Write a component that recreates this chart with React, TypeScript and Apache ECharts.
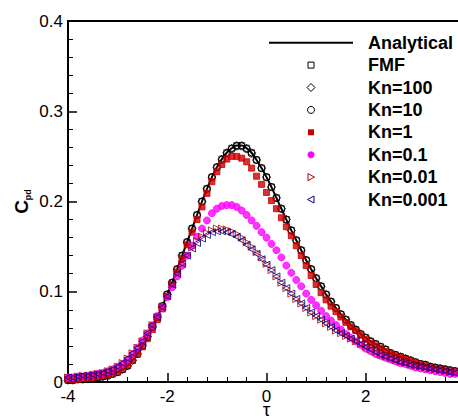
import React, { useEffect, useRef } from "react";
import * as echarts from "echarts";

const tau = [
  -4.0, -3.9, -3.8, -3.7, -3.6, -3.5, -3.4, -3.3, -3.2, -3.1,
  -3.0, -2.9, -2.8, -2.7, -2.6, -2.5, -2.4, -2.3, -2.2, -2.1,
  -2.0, -1.9, -1.8, -1.7, -1.6, -1.5, -1.4, -1.3, -1.2, -1.1,
  -1.0, -0.9, -0.8, -0.7, -0.6, -0.5, -0.4, -0.3, -0.2, -0.1,
  0.0, 0.1, 0.2, 0.3, 0.4, 0.5, 0.6, 0.7, 0.8, 0.9,
  1.0, 1.1, 1.2, 1.3, 1.4, 1.5, 1.6, 1.7, 1.8, 1.9,
  2.0, 2.1, 2.2, 2.3, 2.4, 2.5, 2.6, 2.7, 2.8, 2.9,
  3.0, 3.1, 3.2, 3.3, 3.4, 3.5, 3.6, 3.7, 3.8,
];

const analytical = [
  0.002, 0.002, 0.003, 0.003, 0.004, 0.004, 0.005, 0.006, 0.007, 0.009,
  0.011, 0.014, 0.018, 0.024, 0.031, 0.040, 0.050, 0.061, 0.072, 0.084,
  0.097, 0.110, 0.125, 0.140, 0.155, 0.170, 0.185, 0.200, 0.214, 0.227,
  0.238, 0.247, 0.254, 0.259, 0.262, 0.262, 0.259, 0.254, 0.246, 0.237,
  0.227, 0.216, 0.204, 0.192, 0.180, 0.168, 0.157, 0.146, 0.135, 0.125,
  0.115, 0.106, 0.097, 0.089, 0.082, 0.075, 0.069, 0.063, 0.058, 0.053,
  0.049, 0.045, 0.042, 0.039, 0.036, 0.032, 0.030, 0.028, 0.026, 0.024,
  0.022, 0.020, 0.019, 0.017, 0.016, 0.015, 0.014, 0.013, 0.012,
];

const fmf = analytical;
const kn100 = analytical;

const kn10 = [
  0.002, 0.002, 0.003, 0.003, 0.004, 0.004, 0.005, 0.006, 0.007, 0.009,
  0.011, 0.014, 0.018, 0.024, 0.031, 0.040, 0.050, 0.061, 0.072, 0.084,
  0.097, 0.110, 0.125, 0.140, 0.155, 0.170, 0.185, 0.200, 0.214, 0.227,
  0.238, 0.246, 0.253, 0.258, 0.261, 0.261, 0.258, 0.253, 0.246, 0.237,
  0.227, 0.216, 0.204, 0.192, 0.180, 0.168, 0.157, 0.146, 0.135, 0.125,
  0.115, 0.106, 0.097, 0.089, 0.082, 0.075, 0.069, 0.063, 0.058, 0.053,
  0.049, 0.045, 0.042, 0.039, 0.036, 0.032, 0.030, 0.028, 0.026, 0.024,
  0.022, 0.020, 0.019, 0.017, 0.016, 0.015, 0.014, 0.013, 0.012,
];

const kn1 = [
  0.003, 0.003, 0.003, 0.004, 0.004, 0.005, 0.006, 0.007, 0.008, 0.010,
  0.012, 0.015, 0.019, 0.024, 0.031, 0.039, 0.048, 0.058, 0.069, 0.081,
  0.095, 0.108, 0.122, 0.137, 0.152, 0.166, 0.180, 0.194, 0.209, 0.222,
  0.233, 0.241, 0.247, 0.250, 0.250, 0.248, 0.244, 0.237, 0.228, 0.219,
  0.210, 0.201, 0.192, 0.182, 0.172, 0.162, 0.151, 0.140, 0.129, 0.118,
  0.108, 0.099, 0.091, 0.084, 0.078, 0.072, 0.066, 0.061, 0.057, 0.052,
  0.047, 0.043, 0.040, 0.037, 0.034, 0.031, 0.029, 0.027, 0.025, 0.023,
  0.021, 0.019, 0.018, 0.016, 0.015, 0.014, 0.013, 0.012, 0.011,
];

const kn01 = [
  0.005, 0.005, 0.006, 0.006, 0.007, 0.008, 0.009, 0.010, 0.012, 0.014,
  0.017, 0.020, 0.025, 0.031, 0.038, 0.046, 0.054, 0.063, 0.073, 0.083,
  0.094, 0.105, 0.117, 0.129, 0.140, 0.151, 0.161, 0.170, 0.179, 0.187,
  0.192, 0.195, 0.196, 0.196, 0.194, 0.190, 0.185, 0.179, 0.173, 0.166,
  0.160, 0.153, 0.146, 0.138, 0.129, 0.121, 0.113, 0.106, 0.098, 0.091,
  0.085, 0.079, 0.073, 0.068, 0.063, 0.058, 0.053, 0.049, 0.045, 0.041,
  0.037, 0.034, 0.031, 0.029, 0.027, 0.025, 0.023, 0.021, 0.020, 0.018,
  0.016, 0.015, 0.014, 0.013, 0.012, 0.011, 0.010, 0.009, 0.009,
];

const kn001 = [
  0.005, 0.005, 0.006, 0.007, 0.007, 0.008, 0.009, 0.010, 0.012, 0.014,
  0.017, 0.021, 0.026, 0.032, 0.038, 0.045, 0.054, 0.063, 0.072, 0.083,
  0.095, 0.108, 0.120, 0.131, 0.141, 0.149, 0.156, 0.161, 0.165, 0.168,
  0.170, 0.170, 0.169, 0.167, 0.164, 0.160, 0.155, 0.150, 0.144, 0.138,
  0.131, 0.124, 0.117, 0.110, 0.104, 0.098, 0.092, 0.087, 0.082, 0.077,
  0.073, 0.069, 0.065, 0.061, 0.057, 0.054, 0.051, 0.048, 0.045, 0.042,
  0.039, 0.036, 0.033, 0.030, 0.028, 0.026, 0.024, 0.022, 0.021, 0.019,
  0.018, 0.017, 0.016, 0.015, 0.014, 0.013, 0.012, 0.011, 0.010,
];

const kn0001 = [
  0.005, 0.005, 0.006, 0.007, 0.007, 0.008, 0.009, 0.010, 0.012, 0.014,
  0.017, 0.021, 0.026, 0.032, 0.038, 0.045, 0.054, 0.063, 0.072, 0.083,
  0.095, 0.108, 0.120, 0.131, 0.140, 0.148, 0.154, 0.159, 0.163, 0.166,
  0.167, 0.167, 0.166, 0.164, 0.161, 0.157, 0.152, 0.147, 0.142, 0.136,
  0.130, 0.124, 0.117, 0.110, 0.104, 0.098, 0.092, 0.087, 0.082, 0.077,
  0.073, 0.069, 0.065, 0.061, 0.057, 0.054, 0.051, 0.048, 0.045, 0.042,
  0.039, 0.036, 0.033, 0.030, 0.028, 0.026, 0.024, 0.022, 0.021, 0.019,
  0.018, 0.017, 0.016, 0.015, 0.014, 0.013, 0.012, 0.011, 0.010,
];

const seriesNames = ["Analytical", "FMF", "Kn=100", "Kn=10", "Kn=1", "Kn=0.1", "Kn=0.01", "Kn=0.001"];
const xTicks = { min: -4, max: 4, interval: 2 };
const yTicks = { min: 0, max: 0.4, interval: 0.1 };

const FONT = '"Liberation Sans", Arial, Helvetica, sans-serif';

export default function App() {
  const ref = useRef<HTMLDivElement>(null);
  useEffect(() => {
    const chart = echarts.init(ref.current!, null, { renderer: "svg" });
    const pairs = (vals: number[]) => tau.map((t, i) => [t, vals[i]]);

    const markerDefs = [
      { name: seriesNames[1], data: fmf, symbol: "rect", size: 6, fill: "rgba(0,0,0,0)", stroke: "#000", rotate: 0 },
      { name: seriesNames[2], data: kn100, symbol: "diamond", size: 8, fill: "rgba(0,0,0,0)", stroke: "#000", rotate: 0 },
      { name: seriesNames[3], data: kn10, symbol: "circle", size: 7, fill: "rgba(0,0,0,0)", stroke: "#000", rotate: 0 },
      { name: seriesNames[4], data: kn1, symbol: "rect", size: 6, fill: "#cc0000", stroke: "#cc0000", rotate: 0 },
      { name: seriesNames[5], data: kn01, symbol: "circle", size: 7, fill: "#ff00ff", stroke: "#ff00ff", rotate: 0 },
      { name: seriesNames[6], data: kn001, symbol: "triangle", size: 7, fill: "rgba(0,0,0,0)", stroke: "#b00000", rotate: -90 },
      { name: seriesNames[7], data: kn0001, symbol: "triangle", size: 7, fill: "rgba(0,0,0,0)", stroke: "#000080", rotate: 90 },
    ];

    const series: any[] = [
      {
        name: seriesNames[0],
        type: "line",
        data: pairs(analytical),
        symbol: "none",
        smooth: true,
        lineStyle: { color: "#000", width: 2 },
        itemStyle: { color: "#000" },
        z: 2,
      },
      ...markerDefs.map((d, i) => ({
        name: d.name,
        type: "scatter",
        data: pairs(d.data),
        symbol: d.symbol,
        symbolSize: d.size,
        symbolRotate: d.rotate,
        itemStyle: { color: d.fill, borderColor: d.stroke, borderWidth: 1 },
        z: 3 + i,
      })),
    ];

    // legend drawn as graphic elements (layout only)
    const lx = 311; // symbol centre x
    const tx = 368; // text x
    const rowY = (i: number) => 42.7 + i * 22.4;
    const legendIcons: any[] = [
      { type: "line", shape: { x1: 269, y1: rowY(0), x2: 353, y2: rowY(0) }, style: { stroke: "#000", lineWidth: 2 } },
      { type: "rect", shape: { x: lx - 3, y: rowY(1) - 3, width: 6, height: 6 }, style: { fill: "none", stroke: "#000", lineWidth: 1 } },
      {
        type: "polygon",
        shape: { points: [[lx, rowY(2) - 4], [lx + 4, rowY(2)], [lx, rowY(2) + 4], [lx - 4, rowY(2)]] },
        style: { fill: "none", stroke: "#000", lineWidth: 1 },
      },
      { type: "circle", shape: { cx: lx, cy: rowY(3), r: 3.5 }, style: { fill: "none", stroke: "#000", lineWidth: 1 } },
      { type: "rect", shape: { x: lx - 3, y: rowY(4) - 3, width: 6, height: 6 }, style: { fill: "#cc0000" } },
      { type: "circle", shape: { cx: lx, cy: rowY(5), r: 3.5 }, style: { fill: "#ff00ff" } },
      {
        type: "polygon",
        shape: { points: [[lx - 3, rowY(6) - 3.5], [lx + 3.5, rowY(6)], [lx - 3, rowY(6) + 3.5]] },
        style: { fill: "none", stroke: "#b00000", lineWidth: 1 },
      },
      {
        type: "polygon",
        shape: { points: [[lx + 3, rowY(7) - 3.5], [lx - 3.5, rowY(7)], [lx + 3, rowY(7) + 3.5]] },
        style: { fill: "none", stroke: "#000080", lineWidth: 1 },
      },
    ];
    const legendTexts = seriesNames.map((n, i) => ({
      type: "text",
      x: tx,
      y: rowY(i),
      style: {
        text: n,
        fill: "#000",
        font: `bold 18px ${FONT}`,
        textAlign: "left",
        textVerticalAlign: "middle",
      },
    }));

    chart.setOption({
      animation: false,
      backgroundColor: "#fff",
      grid: {
        left: 68,
        top: 21,
        right: -7,
        bottom: 34,
        show: true,
        borderColor: "#000",
        borderWidth: 2,
        backgroundColor: "transparent",
        outerBoundsMode: "none",
        containLabel: false,
      },
      graphic: [...legendIcons, ...legendTexts],
      xAxis: {
        type: "value",
        min: xTicks.min,
        max: xTicks.max,
        interval: xTicks.interval,
        name: "τ",
        nameLocation: "middle",
        nameGap: 21,
        nameMoveOverlap: false,
        nameTextStyle: { fontFamily: FONT, fontSize: 19, color: "#000", lineHeight: 12, verticalAlign: "top" },
        axisLine: { show: true, onZero: false, lineStyle: { color: "#000", width: 2 } },
        axisTick: { show: true, inside: true, length: 9, lineStyle: { color: "#000", width: 1.5 } },
        minorTick: { show: true, splitNumber: 5, length: 5, lineStyle: { color: "#000", width: 1 } },
        axisLabel: { fontFamily: FONT, fontSize: 17, color: "#000", margin: 7, lineHeight: 14, showMaxLabel: false },
        splitLine: { show: false },
      },
      yAxis: {
        type: "value",
        min: yTicks.min,
        max: yTicks.max,
        interval: yTicks.interval,
        name: "{c|C}{s|pd}",
        nameLocation: "middle",
        nameRotate: 90,
        nameGap: 36,
        nameMoveOverlap: false,
        nameTextStyle: {
          rich: {
            c: { fontFamily: FONT, fontSize: 19, fontWeight: "bold", color: "#000", lineHeight: 22 },
            s: { fontFamily: FONT, fontSize: 9, fontWeight: "bold", color: "#000", lineHeight: 9, verticalAlign: "bottom" },
          },
        },
        axisLine: { show: true, onZero: false, lineStyle: { color: "#000", width: 2 } },
        axisTick: { show: true, inside: true, length: 9, lineStyle: { color: "#000", width: 1.5 } },
        minorTick: { show: true, splitNumber: 5, length: 5, lineStyle: { color: "#000", width: 1 } },
        axisLabel: { fontFamily: FONT, fontSize: 17, color: "#000", margin: 5 },
        splitLine: { show: false },
      },
      series,
    });
    return () => chart.dispose();
  }, []);
  return <div ref={ref} style={{ position: "fixed", left: 0, top: 0, width: 458, height: 416 }} />;
}
